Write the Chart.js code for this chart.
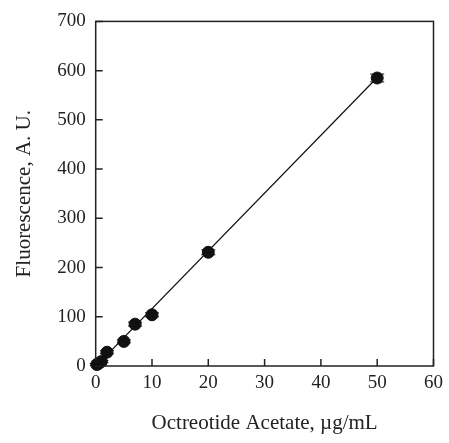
<!DOCTYPE html>
<html>
<head>
<meta charset="utf-8">
<script src="https://cdn.jsdelivr.net/npm/chart.js@4.4.0/dist/chart.umd.min.js"></script>
<style>
  body { margin: 0; background: #fff; }
  #wrap { width: 449px; height: 443px; }
</style>
</head>
<body>
<div id="wrap"><canvas id="c"></canvas></div>
<script>
// data
var conc = [0.2, 0.5, 1, 2, 5, 7, 10, 20, 50];
var fluor = [3, 5, 9, 28, 50, 85, 104, 231, 585];
var errs = [2, 2, 2, 3, 3, 4, 4, 5, 8];
var fitX = [0, 50];
var fitY = [-1, 586];
var xTicks = [0, 10, 20, 30, 40, 50, 60];
var yTicks = [0, 100, 200, 300, 400, 500, 600, 700];

var pts = conc.map(function (x, i) { return { x: x, y: fluor[i] }; });
var fit = fitX.map(function (x, i) { return { x: x, y: fitY[i] }; });

// box round the plot + inward ticks + error bars
var frame = {
  id: 'frame',
  afterDatasetsDraw: function (chart) {
    var ctx = chart.ctx, a = chart.chartArea;
    var xs = chart.scales.x, ys = chart.scales.y;
    ctx.save();
    ctx.strokeStyle = '#222';
    ctx.lineWidth = 1.5;
    ctx.strokeRect(a.left, a.top, a.right - a.left, a.bottom - a.top);
    ctx.beginPath();
    xTicks.forEach(function (t) {
      var px = xs.getPixelForValue(t);
      ctx.moveTo(px, a.bottom); ctx.lineTo(px, a.bottom - 7);
    });
    yTicks.forEach(function (t) {
      var py = ys.getPixelForValue(t);
      ctx.moveTo(a.left, py); ctx.lineTo(a.left + 7, py);
    });
    ctx.stroke();
    // error bars
    ctx.lineWidth = 1;
    ctx.strokeStyle = '#111';
    ctx.beginPath();
    conc.forEach(function (x, i) {
      var px = xs.getPixelForValue(x);
      var top = ys.getPixelForValue(fluor[i] + errs[i]);
      var bot = ys.getPixelForValue(fluor[i] - errs[i]);
      ctx.moveTo(px, top); ctx.lineTo(px, bot);
      ctx.moveTo(px - 7, top); ctx.lineTo(px + 7, top);
      ctx.moveTo(px - 7, bot); ctx.lineTo(px + 7, bot);
    });
    ctx.stroke();
    ctx.restore();
  }
};

new Chart(document.getElementById('c'), {
  type: 'scatter',
  data: {
    datasets: [
      {
        label: 'fit',
        type: 'line',
        data: fit,
        borderColor: '#111',
        borderWidth: 1.2,
        pointRadius: 0,
        fill: false
      },
      {
        label: 'data',
        data: pts,
        backgroundColor: '#111',
        borderColor: '#111',
        pointRadius: 6,
        pointHoverRadius: 6,
        clip: false
      }
    ]
  },
  options: {
    responsive: true,
    maintainAspectRatio: false,
    animation: false,
    layout: { padding: { top: 10, right: 1, left: 8, bottom: 3 } },
    plugins: { legend: { display: false }, tooltip: { enabled: false } },
    scales: {
      x: {
        type: 'linear', min: 0, max: 60,
        grid: { display: false, drawTicks: false },
        border: { display: false },
        afterBuildTicks: function (s) { s.ticks = xTicks.map(function (v) { return { value: v }; }); },
        ticks: { color: '#222', padding: 6, font: { family: 'Liberation Serif', size: 19 } },
        title: { display: true, text: 'Octreotide Acetate, \u00b5g/mL', color: '#222', padding: { top: 10 },
                 font: { family: 'Liberation Serif', size: 21 } }
      },
      y: {
        type: 'linear', min: 0, max: 700,
        grid: { display: false, drawTicks: false },
        border: { display: false },
        afterBuildTicks: function (s) { s.ticks = yTicks.map(function (v) { return { value: v }; }); },
        ticks: { color: '#222', padding: 10, font: { family: 'Liberation Serif', size: 19 } },
        title: { display: true, text: 'Fluorescence, A. U.', color: '#222', padding: { bottom: 10 },
                 font: { family: 'Liberation Serif', size: 21 } }
      }
    }
  },
  plugins: [frame]
});
</script>
</body>
</html>
